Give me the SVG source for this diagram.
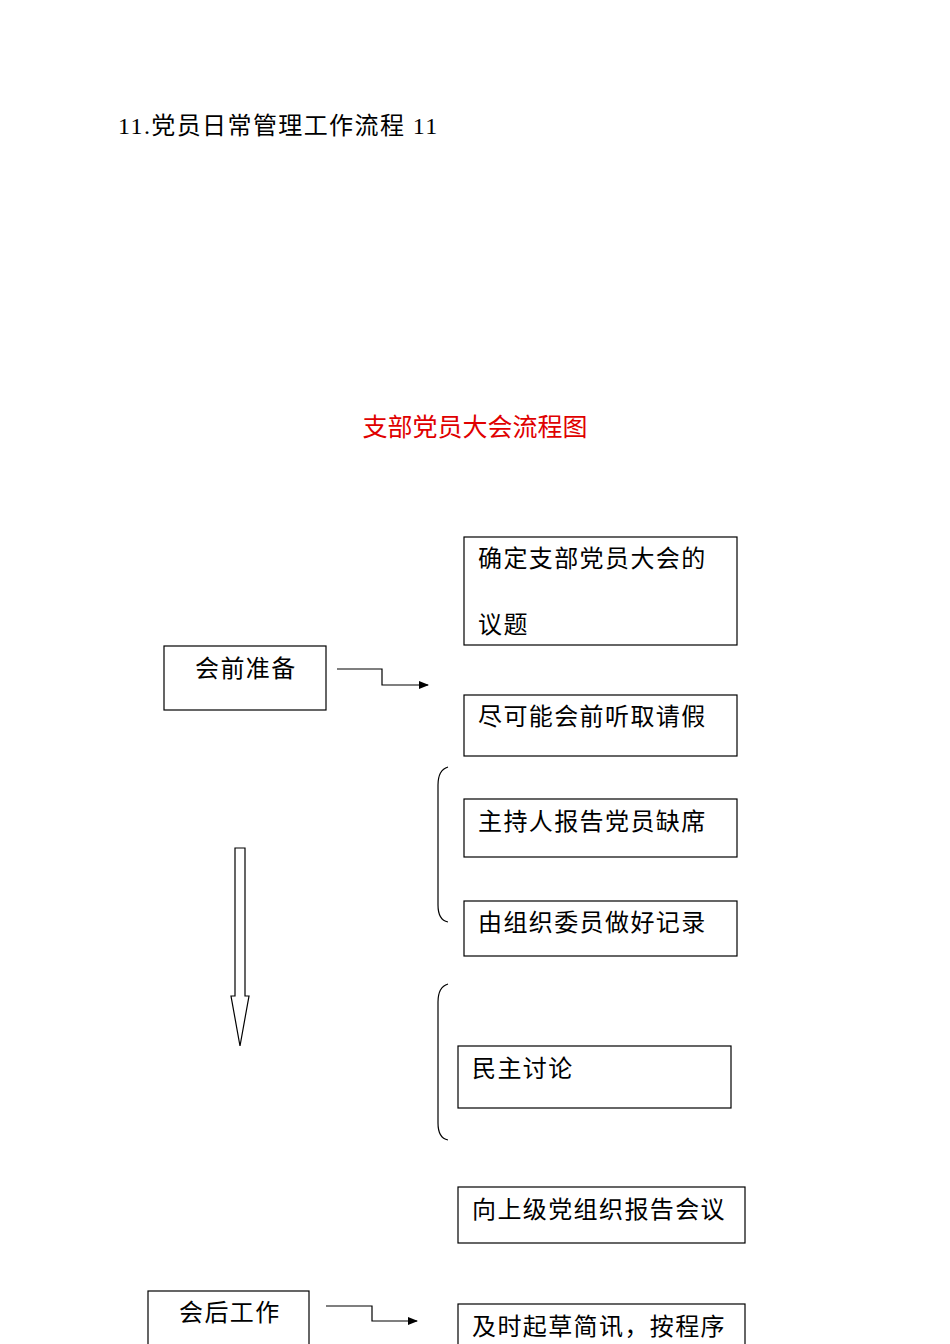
<svg xmlns="http://www.w3.org/2000/svg" width="950" height="1344" viewBox="0 0 950 1344">
<style>
.b{fill:#fff;stroke:#000;stroke-width:1.2}
.t{font-family:"Noto Sans CJK SC","Liberation Serif",serif;font-size:24px;letter-spacing:1.4px;fill:#000}
.l{fill:none;stroke:#000;stroke-width:1.2}
</style>
<defs><marker id="a" markerWidth="10" markerHeight="8" refX="9" refY="4" orient="auto" markerUnits="userSpaceOnUse"><path d="M0,0L10,4L0,8z" fill="#000"/></marker></defs>
<rect width="950" height="1344" fill="#fff"/>
<text x="118" y="134" class="t" style="font-family:'Liberation Serif','Noto Sans CJK SC',serif">11.党员日常管理工作流程  11</text>
<text x="475" y="436" text-anchor="middle" style="font-family:'Noto Sans CJK SC',sans-serif;font-size:25px;fill:#e00000">支部党员大会流程图</text>
<g id="n1"><rect class="b" x="164" y="646" width="162" height="64"/><text class="t" x="195" y="677">会前准备</text></g>
<g id="n2"><rect class="b" x="464" y="537" width="273" height="108"/><text class="t" x="478" y="567">确定支部党员大会的</text><text class="t" x="478" y="633">议题</text></g>
<g id="n3"><rect class="b" x="464" y="695" width="273" height="61"/><text class="t" x="478" y="725">尽可能会前听取请假</text></g>
<g id="n4"><rect class="b" x="464" y="799" width="273" height="58"/><text class="t" x="478" y="830">主持人报告党员缺席</text></g>
<g id="n5"><rect class="b" x="464" y="901" width="273" height="55"/><text class="t" x="478" y="931">由组织委员做好记录</text></g>
<g id="n6"><rect class="b" x="458" y="1046" width="273" height="62"/><text class="t" x="472" y="1077">民主讨论</text></g>
<g id="n7"><rect class="b" x="458" y="1187" width="287" height="56"/><text class="t" x="472" y="1218">向上级党组织报告会议</text></g>
<g id="n8"><rect class="b" x="148" y="1291" width="161" height="60"/><text class="t" x="179" y="1321">会后工作</text></g>
<g id="n9"><rect class="b" x="458" y="1304" width="287" height="50"/><text class="t" x="472" y="1335">及时起草简讯，按程序</text></g>
<g id="connectors">
<path class="l" d="M337,669H382V685H428" marker-end="url(#a)"/>
<path class="l" d="M326,1306H372V1321H417" marker-end="url(#a)"/>
<path class="l" d="M235,848H245V996H249L240,1046L231,996H235Z"/>
<path class="l" d="M448,767Q438,770 438,785V905Q438,920 448,922"/>
<path class="l" d="M448,984Q438,987 438,1002V1123Q438,1138 448,1140"/>
</g>
</svg>
